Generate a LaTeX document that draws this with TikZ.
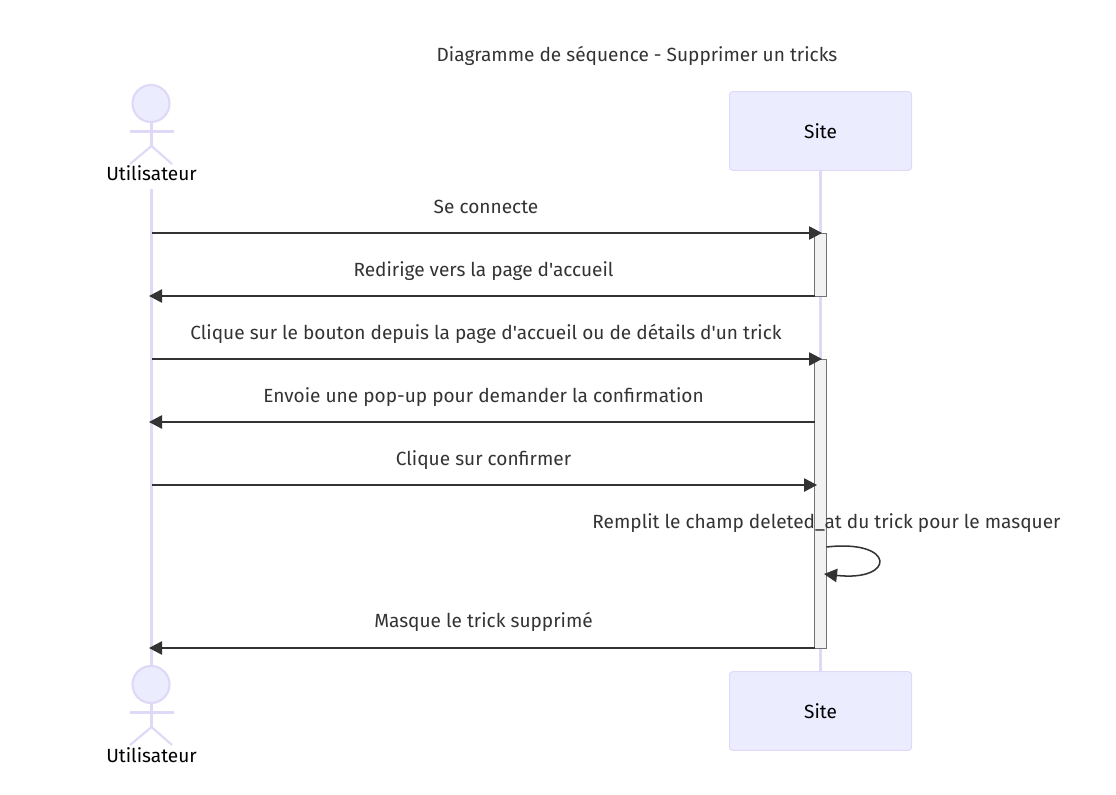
\documentclass[tikz,border=0pt]{standalone}
\usepackage{fontspec}
\setmainfont{Fira Sans}[Ligatures=TeXOff]
\usetikzlibrary{arrows.meta}

\definecolor{lifeline}{HTML}{DFD8F6}
\definecolor{boxfill}{HTML}{ECECFF}
\definecolor{msgcolor}{HTML}{333333}

\tikzset{
  every picture/.style={line width=0.75pt},
  lane/.style={draw=lifeline,line width=1.6pt},
  actorbox/.style={draw=lifeline,fill=boxfill,line width=0.75pt,rounded corners=2.25pt,minimum width=136.5pt,minimum height=58.9pt,inner sep=0pt,text=black,font=\fontsize{14.3}{17}\selectfont},
  activebar/.style={draw=black!55,fill=black!5,line width=0.75pt,minimum width=9pt,inner sep=0pt},
  msg/.style={draw=msgcolor,line width=1.15pt,-{Triangle[length=9.75pt,width=10pt]}},
  msgtext/.style={text=msgcolor,inner sep=0pt,font=\fontsize{14.3}{17}\selectfont},
  actorname/.style={text=black,inner sep=0pt,font=\fontsize{14.3}{17}\selectfont}
}

\begin{document}
\begin{tikzpicture}[x=0.75pt,y=0.75pt,yscale=-1,xscale=1]
\useasboundingbox (0,0) rectangle (1116,795);

%lifelines
\coordinate (userTop) at (151.5,189);
\coordinate (userBot) at (151.5,665);
\coordinate (siteTop) at (820.5,170);
\coordinate (siteBot) at (820.5,672);
\draw [lane] (userTop) -- (userBot);
\draw [lane] (siteTop) -- (siteBot);

%Site boxes
\node [actorbox] (siteHead) at (820.5,131) {Site};
\node [actorbox] (siteFoot) at (820.5,711) {Site};

%Actor top and bottom
\foreach \name/\dy in {top/0,bot/581}{
  \draw [lifeline,line width=1.6pt,fill=boxfill] (151,103.5+\dy) circle [radius=18.5];
  \draw [lifeline,line width=1.6pt] (151.5,122+\dy) -- (151.5,146+\dy);
  \draw [lifeline,line width=1.6pt] (129.5,131.5+\dy) -- (173.5,131.5+\dy);
  \draw [lifeline,line width=1.6pt] (130,164+\dy) -- (151.5,146+\dy) -- (172,164+\dy);
}
\node [actorname] (userHead) at (151.5,173.5) {Utilisateur};
\node [actorname] (userFoot) at (151.5,755) {Utilisateur};

%Activation bars
\node [activebar,minimum height=47.25pt] (barOne) at (820.5,264.5) {};
\node [activebar,minimum height=216.75pt] (barTwo) at (820.5,503.5) {};

%Message ends
\foreach \y in {233,296,359,422,485,648}{
  \coordinate (u\y) at (151.5,\y);
}
\coordinate (s233) at (822,233);
\coordinate (s296) at (814.5,296);
\coordinate (s359) at (822,359);
\coordinate (s422) at (814.5,422);
\coordinate (s485) at (817,485);
\coordinate (s648) at (814.5,648);
\coordinate (t296) at (149,296);
\coordinate (t422) at (149,422);
\coordinate (t648) at (149,648);
\coordinate (loopA) at (826.5,547);
\coordinate (loopB) at (824,574);

%Messages
\draw [msg] (u233) -- (s233);
\draw [msg] (s296) -- (t296);
\draw [msg] (u359) -- (s359);
\draw [msg] (s422) -- (t422);
\draw [msg] (u485) -- (s485);
\draw [msg] (loopA) .. controls (896,539) and (896,582) .. (loopB);
\draw [msg] (s648) -- (t648);

%Text
\node [msgtext] (title) at (637,55.5) {Diagramme de séquence - Supprimer un tricks};
\node [msgtext] (lblOne) at (486,207) {Se connecte};
\node [msgtext] (lblTwo) at (483.5,271) {Redirige vers la page d'accueil};
\node [msgtext] (lblThree) at (486,334) {Clique sur le bouton depuis la page d'accueil ou de détails d'un trick};
\node [msgtext] (lblFour) at (483.5,397) {Envoie une pop-up pour demander la confirmation};
\node [msgtext] (lblFive) at (483.5,460) {Clique sur confirmer};
\node [msgtext] (lblSix) at (826.5,523) {Remplit le champ deleted\_at du trick pour le masquer};
\node [msgtext] (lblSeven) at (483.5,622) {Masque le trick supprimé};

\end{tikzpicture}
\end{document}
